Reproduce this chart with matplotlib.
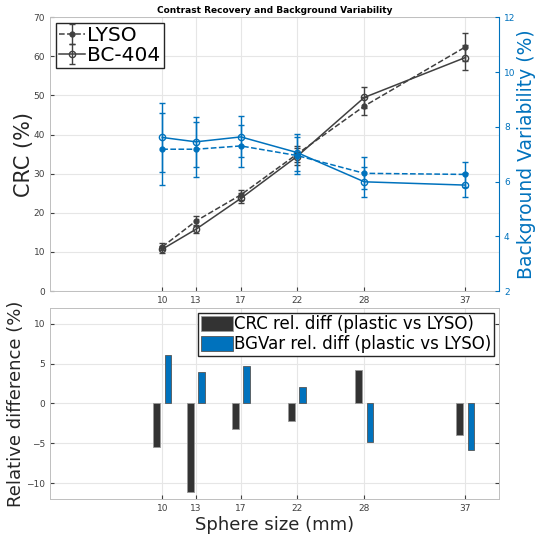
import numpy as np
import matplotlib
matplotlib.use("Agg")
import matplotlib.pyplot as plt

# sphere sizes (mm)
sizes = [10, 13, 17, 22, 28, 37]

# contrast recovery (%)
crc_lyso = [11.3, 17.9, 24.6, 35.0, 47.3, 62.4]
crc_lyso_err = [0.9, 1.2, 1.3, 2.0, 2.2, 3.6]
crc_bc404 = [10.7, 15.8, 23.7, 34.4, 49.5, 59.7]
crc_bc404_err = [0.9, 1.0, 1.3, 2.2, 2.6, 3.1]

# background variability (%)
bg_lyso = [7.18, 7.18, 7.30, 6.95, 6.30, 6.26]
bg_lyso_err = [1.31, 1.00, 0.77, 0.67, 0.58, 0.46]
bg_bc404 = [7.61, 7.45, 7.63, 7.06, 5.99, 5.87]
bg_bc404_err = [1.27, 0.91, 0.75, 0.67, 0.55, 0.43]

# relative differences plastic vs LYSO (%)
crc_rel = [-5.5, -11.1, -3.2, -2.2, 4.25, -3.9]
bg_rel = [6.1, 3.9, 4.75, 2.1, -4.8, -5.8]

BLUE = "#0072BD"
DARK = "#404040"
GRID = "#e6e6e6"
TICK = "#404040"


def style_axes(ax):
    ax.set_xlim(0, 40)
    ax.set_xticks(sizes)
    ax.grid(True, color=GRID, linewidth=0.8)
    ax.set_axisbelow(True)
    ax.tick_params(labelsize=6.5, colors=TICK, direction="in", length=3)
    for s in ax.spines.values():
        s.set_color("#bfbfbf")
        s.set_linewidth(0.7)


fig = plt.figure(figsize=(5.36, 5.39), dpi=100)

# top panel
ax1 = fig.add_axes([0.0933, 0.460, 0.8377, 0.508])
style_axes(ax1)
ax1.set_ylim(0, 70)
ax1.set_yticks(range(0, 71, 10))
ax1.errorbar(sizes, crc_lyso, yerr=crc_lyso_err, color=DARK, ls="--", lw=1.1,
             marker="o", ms=3.5, mfc=DARK, capsize=2.5, elinewidth=1, label="LYSO")
ax1.errorbar(sizes, crc_bc404, yerr=crc_bc404_err, color=DARK, ls="-", lw=1.1,
             marker="o", ms=4.5, mfc="none", capsize=2.5, elinewidth=1, label="BC-404")
ax1.set_ylabel("CRC (%)", fontsize=15, color="#262626", labelpad=0)
ax1.set_title("Contrast Recovery and Background Variability", fontsize=6.5,
              fontweight="bold", pad=3)
ax1.legend(loc="upper left", fontsize=14.5, handlelength=1.3, handletextpad=0.1,
           borderpad=0.15, labelspacing=0.05, fancybox=False, edgecolor="#262626",
           framealpha=1, borderaxespad=0.3)

ax2 = ax1.twinx()
ax2.set_ylim(2, 12)
ax2.set_yticks(range(2, 13, 2))
ax2.errorbar(sizes, bg_lyso, yerr=bg_lyso_err, color=BLUE, ls="--", lw=1.1,
             marker="o", ms=3.5, mfc=BLUE, capsize=2.5, elinewidth=1)
ax2.errorbar(sizes, bg_bc404, yerr=bg_bc404_err, color=BLUE, ls="-", lw=1.1,
             marker="o", ms=4.5, mfc="none", capsize=2.5, elinewidth=1)
ax2.tick_params(labelsize=6.5, colors=BLUE, direction="in", length=3)
ax2.spines["right"].set_color(BLUE)
for k in ("left", "top", "bottom"):
    ax2.spines[k].set_visible(False)
ax2.set_ylabel("Background Variability (%)", fontsize=13.5, color=BLUE, labelpad=1)

# bottom panel
ax3 = fig.add_axes([0.0933, 0.0742, 0.8377, 0.3544])
style_axes(ax3)
ax3.set_ylim(-12, 12)
ax3.set_yticks([-10, -5, 0, 5, 10])
ax3.tick_params(right=True)
x = np.array(sizes, dtype=float)
ax3.bar(x - 0.5, crc_rel, width=0.6, color="#333333", edgecolor="#999999",
        linewidth=0.6, label="CRC rel. diff (plastic vs LYSO)")
ax3.bar(x + 0.5, bg_rel, width=0.6, color=BLUE, edgecolor="#555555",
        linewidth=0.6, label="BGVar rel. diff (plastic vs LYSO)")
ax3.legend(loc="upper right", fontsize=12, handlelength=1.9, handleheight=1.0,
           handletextpad=0.1, borderpad=0.15, labelspacing=0.1, fancybox=False,
           edgecolor="#262626", framealpha=1, borderaxespad=0.3)
ax3.set_ylabel("Relative difference (%)", fontsize=13, color="#262626", labelpad=1)
ax3.set_xlabel("Sphere size (mm)", fontsize=13, color="#262626", labelpad=2)

fig.savefig("out.png", dpi=100)
